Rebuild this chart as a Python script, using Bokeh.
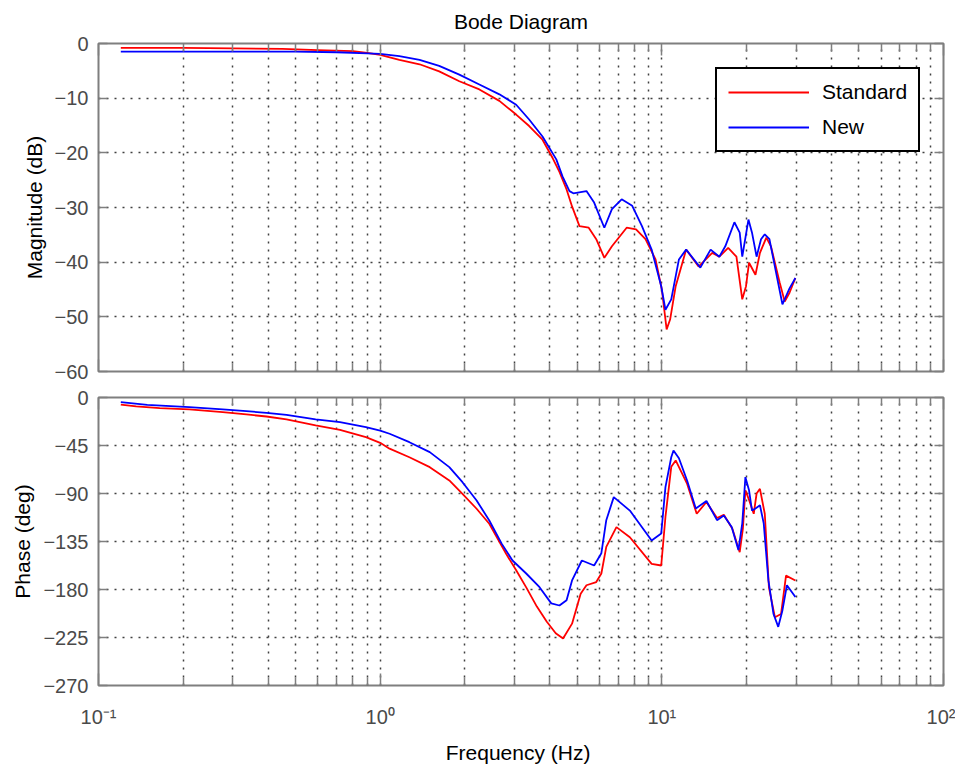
from bokeh.plotting import figure
from bokeh.layouts import column
from bokeh.models import FixedTicker, LogAxis, LinearAxis, Legend, LegendItem, Range1d
from bokeh.embed import file_html
from bokeh.resources import INLINE

# ---------------- data ----------------
title_text = "Bode Diagram"
series_names = ["Standard", "New"]

freq_mag_std = [0.12, 0.2, 0.3, 0.45, 0.6, 0.8, 0.9, 1.0, 1.17, 1.38, 1.62, 1.91, 2.25, 2.65, 3.04,
                3.38, 3.77, 4.1, 4.33, 4.59, 4.8, 5.1, 5.5, 5.85, 6.25, 6.65, 7.5, 8.1, 8.75, 9.5,
                10.0, 10.4, 10.7, 11.2, 12.2, 13.5, 15.1, 16.0, 17.2, 18.4, 19.3, 19.9, 20.4, 21.5,
                22.3, 23.5, 24.4, 26.2, 27.3, 28.4, 29.8]
mag_std = [-0.8, -0.8, -0.9, -1.0, -1.2, -1.4, -1.7, -2.1, -3.0, -3.8, -5.1, -6.9, -8.4, -10.5, -13.0,
           -15.1, -17.6, -21.0, -23.5, -26.7, -29.8, -33.4, -33.7, -35.8, -39.2, -37.1, -33.7, -34.0, -35.8, -39.5,
           -45.0, -52.3, -50.5, -44.4, -37.7, -40.8, -38.3, -39.0, -37.4, -39.0, -46.8, -44.4, -40.1, -42.3,
           -38.3, -35.5, -37.1, -43.7, -47.2, -45.6, -42.9]

freq_mag_new = [0.12, 0.3, 0.5, 0.7, 0.9, 1.0, 1.17, 1.38, 1.62, 1.91, 2.25, 2.65, 3.04, 3.38, 3.77,
                4.22, 4.44, 4.7, 4.85, 5.4, 5.75, 6.25, 6.65, 7.2, 7.85, 8.5, 9.2, 9.95, 10.3, 10.8,
                11.5, 12.2, 13.7, 14.9, 16.0, 16.8, 18.1, 18.9, 19.3, 20.3, 20.9, 21.7, 22.5, 23.2,
                24.1, 25.6, 26.8, 28.4, 29.8]
mag_new = [-1.5, -1.5, -1.5, -1.6, -1.8, -1.9, -2.3, -3.0, -4.1, -5.7, -7.5, -9.3, -11.2, -13.9, -17.0,
           -21.2, -24.3, -27.0, -27.4, -27.0, -29.1, -33.7, -30.3, -28.5, -29.7, -33.4, -37.7, -44.4, -48.7, -46.8,
           -39.5, -37.7, -41.0, -37.7, -39.0, -37.1, -32.7, -34.6, -39.0, -32.2, -34.6, -39.0, -35.8, -34.9,
           -35.8, -42.6, -47.7, -44.8, -42.9]

freq_ph_std = [0.12, 0.136, 0.165, 0.21, 0.276, 0.335, 0.395, 0.465, 0.59, 0.72, 0.89, 1.0, 1.08, 1.27,
               1.5, 1.76, 1.96, 2.2, 2.44, 2.8, 3.04, 3.3, 3.6, 3.9, 4.2, 4.46, 4.8, 5.15, 5.4, 5.85,
               6.1, 6.35, 6.9, 7.7, 9.2, 9.95, 10.3, 10.8, 11.2, 12.3, 13.3, 14.4, 15.7, 16.6, 17.8,
               18.9, 19.4, 19.8, 20.4, 21.2, 21.7, 22.3, 23.2, 24.0, 25.2, 26.5, 27.6, 29.8]
ph_std = [-6.6, -8.4, -10, -11.2, -13.7, -15.9, -17.8, -20.6, -26.2, -30.3, -37.2, -42.5, -48, -56,
          -65.3, -77.8, -90.3, -104.3, -118.4, -146.5, -162, -178, -196, -210, -221, -226, -212, -184, -176, -173,
          -165, -140, -121.5, -131, -156, -157.5, -112, -65, -59, -81, -109, -98, -113, -110, -123,
          -145, -123, -87, -96, -109, -90, -85.6, -109, -178, -206, -203, -167, -171.5]

freq_ph_new = [0.12, 0.149, 0.21, 0.276, 0.335, 0.395, 0.465, 0.59, 0.72, 0.89, 1.0, 1.08, 1.27, 1.5,
               1.76, 1.96, 2.2, 2.44, 2.7, 2.95, 3.3, 3.68, 4.05, 4.33, 4.59, 4.8, 5.2, 5.75, 6.1,
               6.35, 6.75, 7.7, 9.2, 9.95, 10.3, 10.8, 11.0, 11.5, 12.3, 13.2, 14.4, 15.7, 16.6, 17.7,
               18.7, 19.3, 19.8, 20.4, 20.9, 21.5, 22.3, 23.0, 23.9, 24.9, 25.9, 26.8, 27.8, 29.8]
ph_new = [-4.4, -6.9, -9, -11.2, -12.8, -14.4, -16.2, -20.6, -23.1, -27.8, -31, -34, -41.9, -51.2,
          -65.3, -79.4, -96.5, -115.3, -137, -152.8, -165, -177.8, -193, -195, -190, -171.5, -152.8, -157.5, -146,
          -115, -93.4, -106, -134, -127.6, -84, -56, -49.7, -57, -78, -104, -97, -115, -110.6, -121.5,
          -143, -118, -74.7, -87, -106, -104, -101, -118, -171.5, -202.7, -215, -199.6, -176, -187]

x_major_ticks = [0.1, 1, 10, 100]
x_minor_mantissas = [2, 3, 4, 5, 6, 7, 8, 9]
x_tick_labels = ["10\u207b\u00b9", "10\u2070", "10\u00b9", "10\u00b2"]
mag_ticks = [-60, -50, -40, -30, -20, -10, 0]
phase_ticks = [-270, -225, -180, -135, -90, -45, 0]

# ---------------- styling ----------------
FONT = "Liberation Sans"
AX_GRAY = "#7f7f7f"
LBL_GRAY = "#4a4a4a"
GRID = "#404040"
RED = "#ff0000"
BLUE = "#0000ff"

x_minor = [m * t for t in x_major_ticks[:-1] for m in x_minor_mantissas]


def xticker():
    return FixedTicker(ticks=x_major_ticks, minor_ticks=x_minor)


def style_axis(ax, show_labels, is_x):
    ax.axis_line_color = None
    ax.major_tick_line_color = AX_GRAY
    ax.minor_tick_line_color = AX_GRAY
    ax.major_tick_line_width = 1.5
    ax.minor_tick_line_width = 1.5
    ax.major_tick_in = 12 if is_x else 9
    ax.major_tick_out = 0
    ax.minor_tick_in = 8
    ax.minor_tick_out = 0
    ax.major_label_text_font = FONT
    ax.major_label_text_font_size = "20px"
    ax.major_label_text_color = LBL_GRAY
    ax.major_label_standoff = 10
    ax.axis_label_text_font = FONT
    ax.axis_label_text_font_size = "21px"
    ax.axis_label_text_font_style = "normal"
    ax.axis_label_text_color = "#000000"
    ax.axis_label_standoff = 6
    if not show_labels:
        ax.major_label_text_font_size = "2px"
        ax.major_label_text_color = None
        ax.major_label_standoff = 0


def make_panel(frame_h, yr, yticks, ylabel, top_border, bottom_border):
    p = figure(frame_width=845, frame_height=frame_h, x_axis_type="log",
               x_range=Range1d(0.1, 100), y_range=Range1d(*yr),
               output_backend="svg", toolbar_location=None,
               min_border_left=98, min_border_right=12,
               min_border_top=top_border, min_border_bottom=bottom_border)
    p.background_fill_color = "white"
    p.border_fill_color = "white"
    p.outline_line_color = AX_GRAY
    p.outline_line_width = 2

    bottom_ax = p.below[0]
    left_ax = p.left[0]
    bottom_ax.ticker = xticker()
    left_ax.ticker = FixedTicker(ticks=yticks, minor_ticks=[])
    style_axis(bottom_ax, False, True)
    style_axis(left_ax, True, False)
    left_ax.axis_label = ylabel

    top_ax = LogAxis(ticker=xticker())
    style_axis(top_ax, False, True)
    p.add_layout(top_ax, "above")
    right_ax = LinearAxis(ticker=FixedTicker(ticks=yticks, minor_ticks=[]))
    style_axis(right_ax, False, False)
    p.add_layout(right_ax, "right")

    p.xgrid.ticker = xticker()
    p.ygrid.ticker = FixedTicker(ticks=yticks, minor_ticks=[])
    for g in (p.xgrid[0], p.ygrid[0]):
        g.grid_line_color = GRID
        g.grid_line_dash = "2 6"
        g.grid_line_width = 1.5
    p.xgrid.minor_grid_line_color = GRID
    p.xgrid.minor_grid_line_dash = "2 6"
    p.xgrid.minor_grid_line_width = 1.5
    return p


# ---------------- magnitude panel ----------------
p1 = make_panel(328, (-60, 0), mag_ticks, "Magnitude (dB)", 43, 13)
p1.title.text = title_text
p1.title.align = "center"
p1.title.vertical_align = "top"
p1.title.text_font = FONT
p1.title.text_font_size = "21px"
p1.title.text_font_style = "normal"
p1.title.text_color = "#000000"
p1.title.standoff = 18

r_std = p1.line(freq_mag_std, mag_std, line_color=RED, line_width=1.8)
r_new = p1.line(freq_mag_new, mag_new, line_color=BLUE, line_width=1.8)

legend = Legend(items=[LegendItem(label=series_names[0], renderers=[r_std]),
                       LegendItem(label=series_names[1], renderers=[r_new])],
                location=(617, 219))
legend.border_line_color = "#000000"
legend.border_line_alpha = 1
legend.border_line_width = 2
legend.background_fill_color = "white"
legend.background_fill_alpha = 1
legend.label_text_font = FONT
legend.label_text_font_size = "21px"
legend.label_text_color = "#000000"
legend.glyph_width = 81
legend.glyph_height = 22
legend.label_height = 22
legend.label_standoff = 13
legend.spacing = 11
legend.padding = 11
legend.margin = 0
p1.add_layout(legend, "center")

# ---------------- phase panel ----------------
p2 = make_panel(288, (-270, 0), phase_ticks, "Phase (deg)", 13, 70)
xb = p2.below[0]
xb.major_label_text_font_size = "20px"
xb.major_label_text_color = LBL_GRAY
xb.major_label_standoff = 20
xb.major_label_overrides = dict(zip(x_major_ticks, x_tick_labels))
xb.axis_label = "Frequency  (Hz)"
xb.axis_label_standoff = 10
p2.line(freq_ph_std, ph_std, line_color=RED, line_width=1.8)
p2.line(freq_ph_new, ph_new, line_color=BLUE, line_width=1.8)

layout = column(p1, p2, spacing=0)
open("out.html", "w").write(file_html(layout, INLINE))
